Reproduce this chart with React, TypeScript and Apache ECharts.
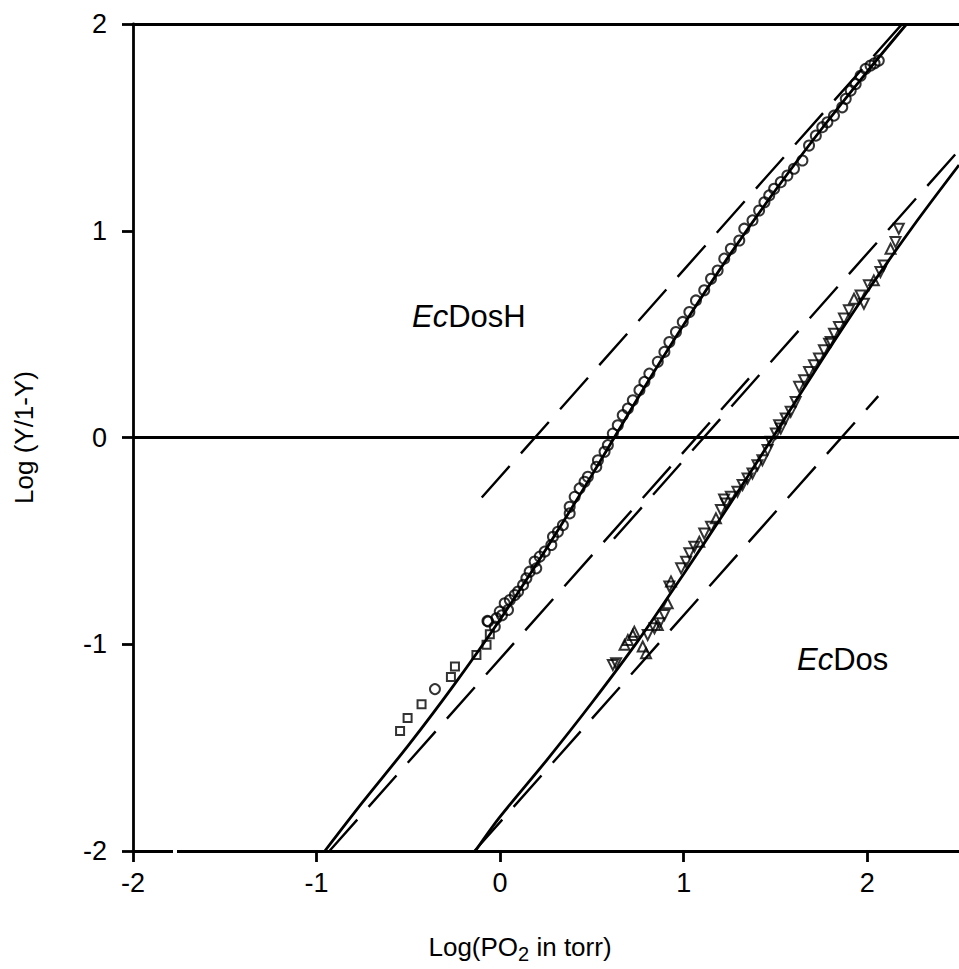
import React, { useEffect, useRef } from "react";
import * as echarts from "echarts";

// ---- data ----
const xTicks = [-2, -1, 0, 1, 2];
const yTicks = [-2, -1, 0, 1, 2];

// EcDosH data: open circles
const ecDosHCircles: number[][] = [
  [-0.069, -0.887], [-0.065, -0.89], [-0.029, -0.915], [-0.02, -0.874], [-0.002, -0.842],
  [0.01, -0.86], [0.025, -0.802], [0.043, -0.834], [0.053, -0.786], [0.08, -0.762],
  [0.098, -0.745], [0.125, -0.713], [0.143, -0.681], [0.161, -0.649], [0.197, -0.633],
  [0.188, -0.6], [0.216, -0.576], [0.243, -0.552], [0.279, -0.52], [0.288, -0.48],
  [0.315, -0.456], [0.342, -0.424], [0.379, -0.367], [0.379, -0.335], [0.406, -0.287],
  [0.433, -0.246], [0.46, -0.214], [0.478, -0.19], [0.524, -0.142], [0.533, -0.11],
  [0.569, -0.069], [0.587, -0.037], [0.614, 0.019], [0.641, 0.059], [0.668, 0.108],
  [0.696, 0.14], [0.723, 0.18], [0.759, 0.229], [0.786, 0.269], [0.813, 0.309],
  [0.859, 0.366], [0.895, 0.414], [0.922, 0.462], [0.958, 0.51], [0.995, 0.559],
  [1.031, 0.607], [1.067, 0.663], [1.112, 0.712], [1.149, 0.768], [1.185, 0.808],
  [1.221, 0.865], [1.257, 0.913], [1.303, 0.953], [1.33, 1.01], [1.375, 1.05],
  [1.411, 1.098], [1.44, 1.138], [1.466, 1.171], [1.493, 1.203], [1.529, 1.235],
  [1.565, 1.267], [1.601, 1.3], [1.647, 1.34], [1.683, 1.412], [1.72, 1.46],
  [1.755, 1.501], [1.783, 1.525], [1.819, 1.557], [1.864, 1.597], [1.883, 1.638],
  [1.91, 1.678], [1.937, 1.71], [1.964, 1.75], [1.991, 1.783], [2.018, 1.799],
  [2.04, 1.81], [2.063, 1.823], [-0.355, -1.217]
];

// EcDosH low-pressure data: open squares
const ecDosHSquares: number[][] = [
  [-0.545, -1.419], [-0.504, -1.357], [-0.428, -1.29], [-0.268, -1.159],
  [-0.246, -1.108], [-0.129, -1.052], [-0.074, -1.003], [-0.056, -0.952]
];

// EcDos data: open triangles (pointing down / pointing up)
const ecDosTriDown: number[][] = [
  [2.172, 1.01], [2.154, 0.945], [2.09, 0.832], [2.072, 0.8], [2.009, 0.736],
  [1.964, 0.687], [1.982, 0.647], [1.9, 0.615], [1.873, 0.575], [1.846, 0.535],
  [1.819, 0.502], [1.792, 0.454], [1.764, 0.422], [1.737, 0.382], [1.71, 0.349],
  [1.683, 0.317], [1.656, 0.277], [1.629, 0.245], [1.61, 0.172], [1.583, 0.124],
  [1.556, 0.092], [1.529, 0.043], [1.502, 0.019], [1.474, -0.021], [1.457, -0.061],
  [1.429, -0.11], [1.402, -0.134], [1.375, -0.174], [1.348, -0.198], [1.321, -0.23],
  [1.293, -0.262], [1.257, -0.287], [1.23, -0.319], [1.203, -0.351], [1.149, -0.432],
  [1.112, -0.464], [1.058, -0.528], [1.031, -0.56], [1.013, -0.601], [0.986, -0.633],
  [0.922, -0.721], [0.895, -0.858], [0.868, -0.899], [0.841, -0.923], [0.804, -0.955],
  [0.632, -1.092], [0.614, -1.1], [1.22, -0.3], [1.52, 0.059], [1.801, 0.462]
];
const ecDosTriUp: number[][] = [
  [0.731, -0.939], [0.696, -0.979], [0.678, -1.003], [0.795, -1.043], [0.931, -0.696],
  [0.913, -0.802], [0.859, -0.907], [0.777, -1.011], [1.928, 0.671], [2.036, 0.76],
  [2.127, 0.913], [1.085, -0.504], [1.176, -0.391], [0.723, -0.955]
];

// fitted curves (solid)
const ecDosHFit: number[][] = [
  [-0.955, -2.0], [-0.75, -1.765], [-0.5, -1.489], [-0.25, -1.195], [0.0, -0.88],
  [0.25, -0.54], [0.5, -0.182], [0.75, 0.19], [1.0, 0.545], [1.25, 0.882],
  [1.5, 1.196], [1.75, 1.491], [2.0, 1.77], [2.215, 2.0]
];
const ecDosFit: number[][] = [
  [-0.135, -2.0], [0.0, -1.834], [0.25, -1.565], [0.5, -1.283], [0.75, -0.985],
  [1.0, -0.66], [1.25, -0.325], [1.5, 0.021], [1.75, 0.37], [2.0, 0.706],
  [2.25, 1.022], [2.5, 1.318]
];

// asymptotes (dashed, slope 1)
const ecDosHUpperAsym: number[][] = [[-0.1, -0.29], [2.19, 2.0]];
const ecDosHLowerAsym: number[][] = [[-0.93, -2.0], [1.38, 0.31]];
const ecDosUpperAsym: number[][] = [[0.62, -0.49], [2.5, 1.39]];
const ecDosLowerAsym: number[][] = [[-0.14, -2.0], [2.06, 0.2]];

const zeroLine: number[][] = [[-2, 0], [2.5, 0]];

const FONT = "'Liberation Sans', Arial, Helvetica, sans-serif";

export default function App() {
  const ref = useRef<HTMLDivElement>(null);
  useEffect(() => {
    if (!ref.current) return;
    const chart = echarts.init(ref.current, undefined, { renderer: "svg" });
    const black = "#000";
    const axisLine = { show: true, onZero: false, lineStyle: { color: black, width: 2.8 } };
    const solid = (data: number[][]) => ({
      type: "line", data, smooth: 0.3, symbol: "none", silent: true,
      lineStyle: { color: black, width: 2.8 }
    });
    const dashed = (data: number[][]) => ({
      type: "line", data, symbol: "none", silent: true,
      lineStyle: { color: black, width: 2.4, type: [42, 17] }
    });
    const scatter = (data: number[][], symbol: string, size: number, rotate = 0) => ({
      type: "scatter", data, symbol, symbolSize: size, symbolRotate: rotate, silent: true,
      itemStyle: { color: "rgba(0,0,0,0)", borderColor: black, borderWidth: 2 }
    });
    chart.setOption({
      animation: false,
      backgroundColor: "#fff",
      grid: { left: 133, top: 24, width: 829, height: 829 },
      xAxis: [
        {
          type: "value", min: -2, max: 2.5, interval: 1, position: "bottom",
          axisLine,
          axisTick: { show: true, inside: false, length: 11, lineStyle: { color: black, width: 2.8 } },
          axisLabel: {
            color: black, fontSize: 27, fontFamily: FONT, margin: 18, showMaxLabel: false,
            formatter: (v: number) => (xTicks.includes(v) ? String(v) : "")
          },
          splitLine: { show: false },
          name: "{n|Log(PO}{s|2}{n| in torr)}",
          nameLocation: "middle", nameGap: 78,
          nameTextStyle: {
            padding: [0, 52, 0, 0],
            rich: {
              n: { fontSize: 26, fontFamily: FONT, color: black },
              s: { fontSize: 20, fontFamily: FONT, color: black, padding: [15, 0, 0, 0] }
            }
          }
        },
        {
          type: "value", min: -2, max: 2.5, position: "top",
          axisLine, axisTick: { show: false }, axisLabel: { show: false }, splitLine: { show: false }
        }
      ],
      yAxis: {
        type: "value", min: -2, max: 2, interval: 1,
        axisLine,
        axisTick: { show: true, inside: false, length: 11, lineStyle: { color: black, width: 2.8 } },
        axisLabel: {
          color: black, fontSize: 27, fontFamily: FONT, margin: 26,
          formatter: (v: number) => (yTicks.includes(v) ? String(v) : "")
        },
        splitLine: { show: false },
        name: "Log (Y/1-Y)", nameLocation: "middle", nameRotate: 90, nameGap: 96,
        nameTextStyle: { fontSize: 26, fontFamily: FONT, color: black }
      },
      graphic: [
        {
          type: "text", left: 412, top: 301, z: 100,
          style: {
            text: "{i|Ec}{n|DosH}",
            rich: {
              i: { fontSize: 31, fontStyle: "italic", fontFamily: FONT, fill: black },
              n: { fontSize: 31, fontFamily: FONT, fill: black }
            }
          }
        },
        {
          type: "text", left: 797, top: 644, z: 100,
          style: {
            text: "{i|Ec}{n|Dos}",
            rich: {
              i: { fontSize: 31, fontStyle: "italic", fontFamily: FONT, fill: black },
              n: { fontSize: 31, fontFamily: FONT, fill: black }
            }
          }
        },
        {
          type: "rect", left: 173, top: 849, z: 100,
          shape: { width: 4, height: 8 }, style: { fill: "#fff" }
        }
      ],
      series: [
        { ...solid(zeroLine), smooth: false },
        dashed(ecDosHUpperAsym),
        dashed(ecDosHLowerAsym),
        dashed(ecDosUpperAsym),
        dashed(ecDosLowerAsym),
        solid(ecDosHFit),
        solid(ecDosFit),
        scatter(ecDosHCircles, "circle", 10),
        scatter(ecDosHSquares, "rect", 8),
        scatter(ecDosTriDown, "triangle", 10, 180),
        scatter(ecDosTriUp, "triangle", 10)
      ]
    });
    return () => chart.dispose();
  }, []);
  return (
    <div
      ref={ref}
      style={{ position: "absolute", left: 0, top: 0, width: 959, height: 969, background: "#fff" }}
    />
  );
}
